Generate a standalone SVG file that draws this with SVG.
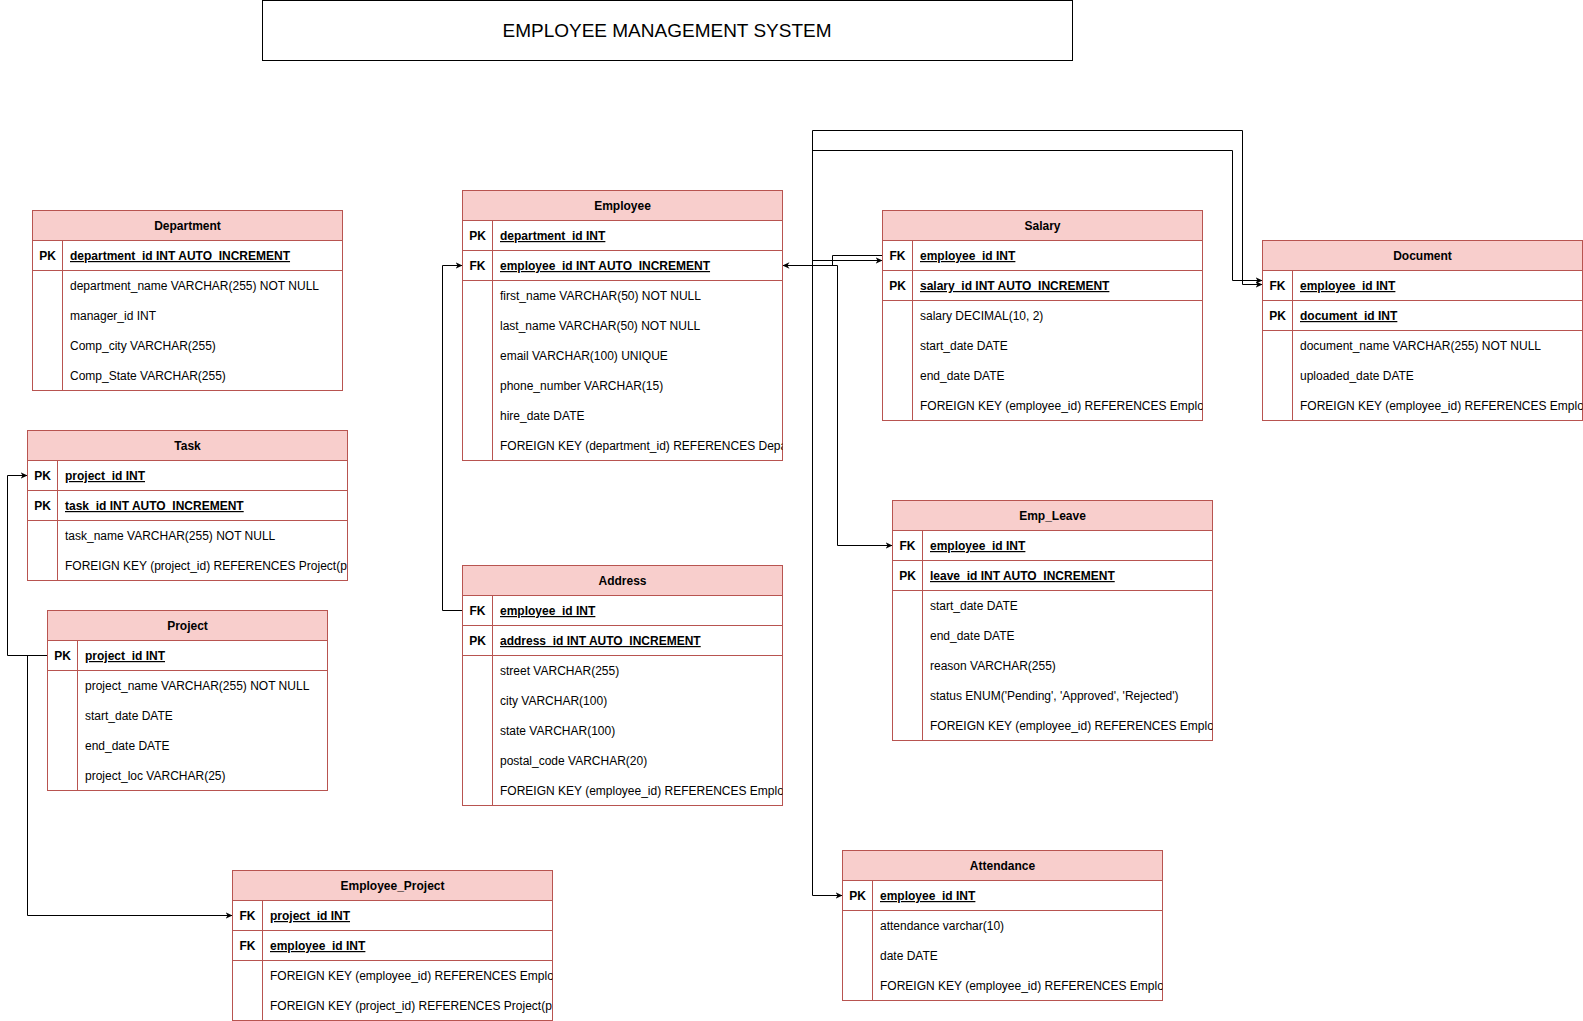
<svg xmlns="http://www.w3.org/2000/svg" width="1583" height="1021" viewBox="0 0 1583 1021">
<style>
.bg{fill:#ffffff}
.box{fill:#ffffff;stroke:#b85450;stroke-width:1}
.hd{fill:#f8cecc;stroke:#b85450;stroke-width:1}
.ln{fill:none;stroke:#b85450;stroke-width:1}
text{font-family:"Liberation Sans",Arial,Helvetica,sans-serif;font-size:12px;fill:#000}
.ht{font-weight:bold;text-anchor:middle}
.k{font-weight:bold;text-anchor:middle}
.kf{font-weight:bold;text-decoration:underline}
.title{font-size:19px;text-anchor:middle}
.tbox{fill:#ffffff;stroke:#000;stroke-width:1}
.c{fill:none;stroke:#000;stroke-width:1}
.ca{fill:none;stroke:#000;stroke-width:1;marker-end:url(#ar)}
</style>
<defs>
<marker id="ar" viewBox="0 0 10 10" refX="10" refY="5" markerWidth="7" markerHeight="7" markerUnits="userSpaceOnUse" orient="auto-start-reverse"><path d="M0,0.5 L10,5 L0,9.5 L3,5 Z" fill="#000"/></marker>
<clipPath id="w310"><rect x="0" y="0" width="310" height="400"/></clipPath>
<clipPath id="w320"><rect x="0" y="0" width="320" height="400"/></clipPath>
<clipPath id="w280"><rect x="0" y="0" width="280" height="400"/></clipPath>
</defs>
<rect class="bg" x="0" y="0" width="1583" height="1021"/>

<g id="title">
<rect class="tbox" x="262.5" y="0.5" width="810" height="60"/>
<text class="title" x="667" y="37">EMPLOYEE MANAGEMENT SYSTEM</text>
</g>

<g id="connectors">
<path class="c" d="M782.5,265.5 H837.5 V545.5 H892.5" marker-start="url(#ar)" marker-end="url(#ar)"/>
<path class="c" d="M832.5,265.5 V255.5 H882.5"/>
<path class="ca" d="M812.5,260.5 H882.5"/>
<path class="ca" d="M812.5,130.5 V895.5 H842.5"/>
<path class="ca" d="M812.5,130.5 H1242.5 V284.5 H1262.5"/>
<path class="ca" d="M812.5,150.5 H1232.5 V280.5 H1262.5"/>
<path class="ca" d="M47.5,655.5 H7.5 V475.5 H27.5"/>
<path class="ca" d="M27.5,655.5 V915.5 H232.5"/>
<path class="ca" d="M462.5,610.5 H442.5 V265.5 H462.5"/>
</g>

<g id="department" transform="translate(32.5,210.5)">
<rect class="box" width="310" height="180"/>
<rect class="hd" width="310" height="30"/>
<path class="ln" d="M0,60 H310 M30,30 V180"/>
<text class="ht" x="155" y="19.5">Department</text>
<g clip-path="url(#w310)">
<text class="k" x="15" y="49.5">PK</text><text class="kf" x="37.5" y="49.5">department_id INT AUTO_INCREMENT</text>
<text x="37.5" y="79.5">department_name VARCHAR(255) NOT NULL</text>
<text x="37.5" y="109.5">manager_id INT</text>
<text x="37.5" y="139.5">Comp_city VARCHAR(255)</text>
<text x="37.5" y="169.5">Comp_State VARCHAR(255)</text>
</g>
</g>

<g id="task" transform="translate(27.5,430.5)">
<rect class="box" width="320" height="150"/>
<rect class="hd" width="320" height="30"/>
<path class="ln" d="M0,60 H320 M0,90 H320 M30,30 V150"/>
<text class="ht" x="160" y="19.5">Task</text>
<g clip-path="url(#w320)">
<text class="k" x="15" y="49.5">PK</text><text class="kf" x="37.5" y="49.5">project_id INT</text>
<text class="k" x="15" y="79.5">PK</text><text class="kf" x="37.5" y="79.5">task_id INT AUTO_INCREMENT</text>
<text x="37.5" y="109.5">task_name VARCHAR(255) NOT NULL</text>
<text x="37.5" y="139.5">FOREIGN KEY (project_id) REFERENCES Project(p</text>
</g>
</g>

<g id="project" transform="translate(47.5,610.5)">
<rect class="box" width="280" height="180"/>
<rect class="hd" width="280" height="30"/>
<path class="ln" d="M0,60 H280 M30,30 V180"/>
<text class="ht" x="140" y="19.5">Project</text>
<g clip-path="url(#w280)">
<text class="k" x="15" y="49.5">PK</text><text class="kf" x="37.5" y="49.5">project_id INT</text>
<text x="37.5" y="79.5">project_name VARCHAR(255) NOT NULL</text>
<text x="37.5" y="109.5">start_date DATE</text>
<text x="37.5" y="139.5">end_date DATE</text>
<text x="37.5" y="169.5">project_loc VARCHAR(25)</text>
</g>
</g>

<g id="employee_project" transform="translate(232.5,870.5)">
<rect class="box" width="320" height="150"/>
<rect class="hd" width="320" height="30"/>
<path class="ln" d="M0,60 H320 M0,90 H320 M30,30 V150"/>
<text class="ht" x="160" y="19.5">Employee_Project</text>
<g clip-path="url(#w320)">
<text class="k" x="15" y="49.5">FK</text><text class="kf" x="37.5" y="49.5">project_id INT</text>
<text class="k" x="15" y="79.5">FK</text><text class="kf" x="37.5" y="79.5">employee_id INT</text>
<text x="37.5" y="109.5">FOREIGN KEY (employee_id) REFERENCES Emplo</text>
<text x="37.5" y="139.5">FOREIGN KEY (project_id) REFERENCES Project(p</text>
</g>
</g>

<g id="employee" transform="translate(462.5,190.5)">
<rect class="box" width="320" height="270"/>
<rect class="hd" width="320" height="30"/>
<path class="ln" d="M0,60 H320 M0,90 H320 M30,30 V270"/>
<text class="ht" x="160" y="19.5">Employee</text>
<g clip-path="url(#w320)">
<text class="k" x="15" y="49.5">PK</text><text class="kf" x="37.5" y="49.5">department_id INT</text>
<text class="k" x="15" y="79.5">FK</text><text class="kf" x="37.5" y="79.5">employee_id INT AUTO_INCREMENT</text>
<text x="37.5" y="109.5">first_name VARCHAR(50) NOT NULL</text>
<text x="37.5" y="139.5">last_name VARCHAR(50) NOT NULL</text>
<text x="37.5" y="169.5">email VARCHAR(100) UNIQUE</text>
<text x="37.5" y="199.5">phone_number VARCHAR(15)</text>
<text x="37.5" y="229.5">hire_date DATE</text>
<text x="37.5" y="259.5">FOREIGN KEY (department_id) REFERENCES Depa</text>
</g>
</g>

<g id="address" transform="translate(462.5,565.5)">
<rect class="box" width="320" height="240"/>
<rect class="hd" width="320" height="30"/>
<path class="ln" d="M0,60 H320 M0,90 H320 M30,30 V240"/>
<text class="ht" x="160" y="19.5">Address</text>
<g clip-path="url(#w320)">
<text class="k" x="15" y="49.5">FK</text><text class="kf" x="37.5" y="49.5">employee_id INT</text>
<text class="k" x="15" y="79.5">PK</text><text class="kf" x="37.5" y="79.5">address_id INT AUTO_INCREMENT</text>
<text x="37.5" y="109.5">street VARCHAR(255)</text>
<text x="37.5" y="139.5">city VARCHAR(100)</text>
<text x="37.5" y="169.5">state VARCHAR(100)</text>
<text x="37.5" y="199.5">postal_code VARCHAR(20)</text>
<text x="37.5" y="229.5">FOREIGN KEY (employee_id) REFERENCES Emplo</text>
</g>
</g>

<g id="salary" transform="translate(882.5,210.5)">
<rect class="box" width="320" height="210"/>
<rect class="hd" width="320" height="30"/>
<path class="ln" d="M0,60 H320 M0,90 H320 M30,30 V210"/>
<text class="ht" x="160" y="19.5">Salary</text>
<g clip-path="url(#w320)">
<text class="k" x="15" y="49.5">FK</text><text class="kf" x="37.5" y="49.5">employee_id INT</text>
<text class="k" x="15" y="79.5">PK</text><text class="kf" x="37.5" y="79.5">salary_id INT AUTO_INCREMENT</text>
<text x="37.5" y="109.5">salary DECIMAL(10, 2)</text>
<text x="37.5" y="139.5">start_date DATE</text>
<text x="37.5" y="169.5">end_date DATE</text>
<text x="37.5" y="199.5">FOREIGN KEY (employee_id) REFERENCES Emplo</text>
</g>
</g>

<g id="document" transform="translate(1262.5,240.5)">
<rect class="box" width="320" height="180"/>
<rect class="hd" width="320" height="30"/>
<path class="ln" d="M0,60 H320 M0,90 H320 M30,30 V180"/>
<text class="ht" x="160" y="19.5">Document</text>
<g clip-path="url(#w320)">
<text class="k" x="15" y="49.5">FK</text><text class="kf" x="37.5" y="49.5">employee_id INT</text>
<text class="k" x="15" y="79.5">PK</text><text class="kf" x="37.5" y="79.5">document_id INT</text>
<text x="37.5" y="109.5">document_name VARCHAR(255) NOT NULL</text>
<text x="37.5" y="139.5">uploaded_date DATE</text>
<text x="37.5" y="169.5">FOREIGN KEY (employee_id) REFERENCES Emplo</text>
</g>
</g>

<g id="emp_leave" transform="translate(892.5,500.5)">
<rect class="box" width="320" height="240"/>
<rect class="hd" width="320" height="30"/>
<path class="ln" d="M0,60 H320 M0,90 H320 M30,30 V240"/>
<text class="ht" x="160" y="19.5">Emp_Leave</text>
<g clip-path="url(#w320)">
<text class="k" x="15" y="49.5">FK</text><text class="kf" x="37.5" y="49.5">employee_id INT</text>
<text class="k" x="15" y="79.5">PK</text><text class="kf" x="37.5" y="79.5">leave_id INT AUTO_INCREMENT</text>
<text x="37.5" y="109.5">start_date DATE</text>
<text x="37.5" y="139.5">end_date DATE</text>
<text x="37.5" y="169.5">reason VARCHAR(255)</text>
<text x="37.5" y="199.5">status ENUM('Pending', 'Approved', 'Rejected')</text>
<text x="37.5" y="229.5">FOREIGN KEY (employee_id) REFERENCES Emplo</text>
</g>
</g>

<g id="attendance" transform="translate(842.5,850.5)">
<rect class="box" width="320" height="150"/>
<rect class="hd" width="320" height="30"/>
<path class="ln" d="M0,60 H320 M30,30 V150"/>
<text class="ht" x="160" y="19.5">Attendance</text>
<g clip-path="url(#w320)">
<text class="k" x="15" y="49.5">PK</text><text class="kf" x="37.5" y="49.5">employee_id INT</text>
<text x="37.5" y="79.5">attendance varchar(10)</text>
<text x="37.5" y="109.5">date DATE</text>
<text x="37.5" y="139.5">FOREIGN KEY (employee_id) REFERENCES Emplo</text>
</g>
</g>
</svg>
